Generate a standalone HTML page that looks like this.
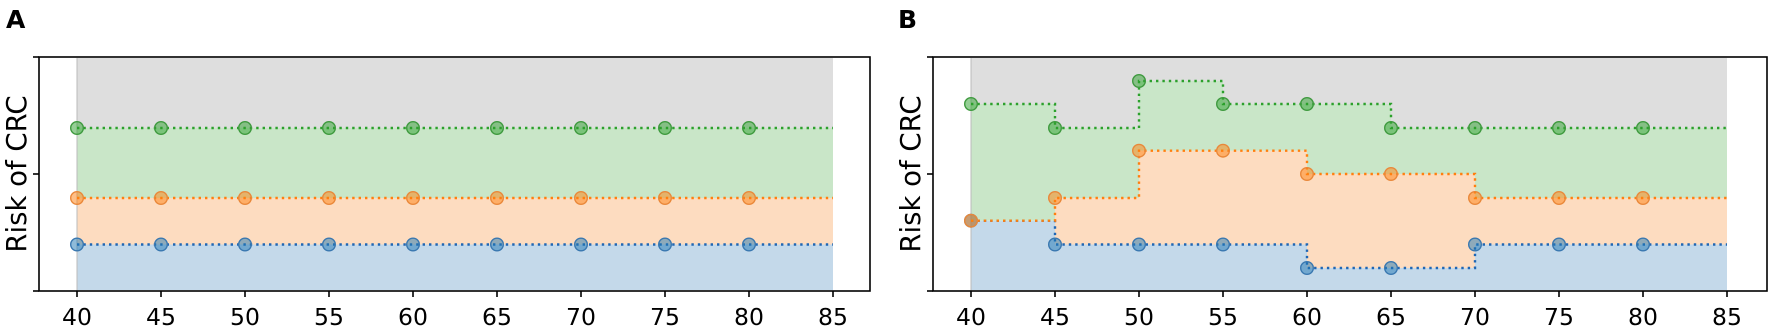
<!DOCTYPE html>
<html><head><meta charset="utf-8"><style>
html,body{margin:0;padding:0;background:#fff;width:1772px;height:330px;overflow:hidden}
text{font-family:"DejaVu Sans","Liberation Sans",sans-serif}
</style></head><body>
<svg id="s" width="1772" height="330" xmlns="http://www.w3.org/2000/svg"></svg>
<script>
const s=document.getElementById('s');let h='';
const Y0=58,Y1=291;
function panel(L,R,x40,label,lx,g,o,b){
  const xs=i=>x40+i*84;
  const N=9;
  function stepPts(v){let p=[];for(let i=0;i<N;i++){p.push([xs(i),v[i]]);p.push([xs(i+1),v[i]]);}return p;}
  function band(top,bot,col){
    const t=top?stepPts(top):[[xs(0),Y0],[xs(N),Y0]];
    const bb=bot?stepPts(bot).reverse():[[xs(N),Y1-1],[xs(0),Y1-1]];
    h+=`<polygon points="${t.concat(bb).map(p=>p.join(',')).join(' ')}" fill="${col}"/>`;
  }
  band(null,g,'#dedede');band(g,o,'#c9e6c8');band(o,b,'#fddcc0');band(b,null,'#c4d9ea');
  h+=`<line x1="${xs(0)}" y1="${Y0}" x2="${xs(0)}" y2="${Y1}" stroke="#bbb" stroke-width="1"/>`;
  for(const [v,c,mf,me] of [[b,'#1f66b4','rgba(31,119,180,0.5)','#3a78b0'],[o,'#ff7f0e','rgba(255,127,14,0.5)','#e9883a'],[g,'#2ca02c','rgba(44,160,44,0.5)','#3f9a3f']]){
    const p=stepPts(v);
    h+=`<polyline points="${p.map(q=>q.join(',')).join(' ')}" fill="none" stroke="${c}" stroke-width="2.4" stroke-dasharray="2.4 4" />`;
    for(let i=0;i<N;i++)h+=`<circle cx="${xs(i)}" cy="${v[i]}" r="6.3" fill="${mf}" stroke="${me}" stroke-width="1.4"/>`;
  }
  h+=`<rect x="${L}" y="${Y0-1}" width="${R-L}" height="${Y1-Y0+1}" fill="none" stroke="#000" stroke-width="1.6"/>`;
  for(const y of [Y0-1,174,Y1])h+=`<line x1="${L-6}" y1="${y}" x2="${L}" y2="${y}" stroke="#000" stroke-width="1.6"/>`;
  for(let i=0;i<10;i++){h+=`<line x1="${xs(i)}" y1="${Y1}" x2="${xs(i)}" y2="${Y1+6}" stroke="#000" stroke-width="1.6"/>`;
    h+=`<text x="${xs(i)}" y="325" font-size="23.5" text-anchor="middle">${40+5*i}</text>`;}
  h+=`<text transform="translate(${L-13},174) rotate(-90)" font-size="27.5" text-anchor="middle">Risk of CRC</text>`;
  h+=`<text x="${lx}" y="28" font-size="25" font-weight="bold">${label}</text>`;
}
panel(39,870,77,'A',6,Array(9).fill(128),Array(9).fill(198),Array(9).fill(244.5));
panel(933,1767,971,'B',898,[104,128,81,104,104,128,128,128,128],[220.7,198,150.7,150.7,174,174,198,198,198],[220.7,244.5,244.5,244.5,268,268,244.5,244.5,244.5]);
s.innerHTML=h;
</script>
</body></html>
